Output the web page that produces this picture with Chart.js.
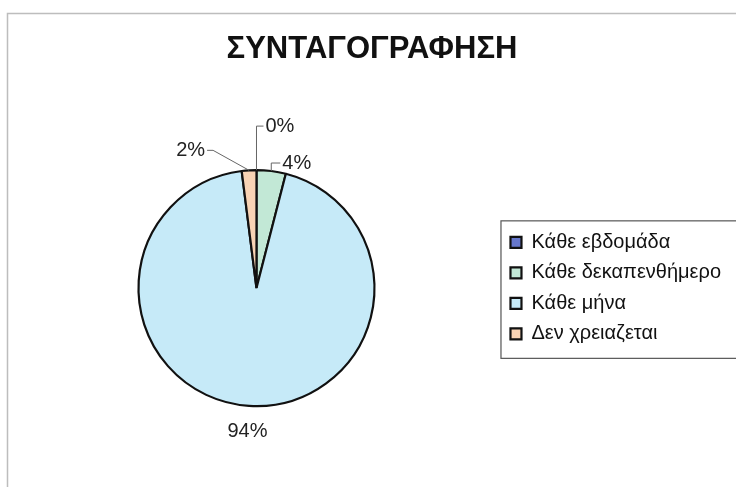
<!DOCTYPE html>
<html>
<head>
<meta charset="utf-8">
<script src="https://cdn.jsdelivr.net/npm/chart.js@4"></script>
<style>
  html, body { margin: 0; padding: 0; background: #fff; }
  canvas { display: block; }
</style>
</head>
<body>
<canvas id="chart" width="736" height="487"></canvas>
<script>
// Chart data
const labels = ["Κάθε εβδομάδα", "Κάθε δεκαπενθήμερο", "Κάθε μήνα", "Δεν χρειαζεται"];
const percents = [0, 4, 94, 2];
const sliceColors = ["#6677CC", "#C2E8D6", "#C6EAF8", "#F8D3B4"];

// leader line layout per slice: elbow offset from slice edge, then tail
const leaders = [
  { dx: 0, dy: -44, tail: 7 },
  { dx: 0, dy: -8, tail: 9 },
  null,
  { dx: -36, dy: -20, tail: -6 },
];

const framePlugin = {
  id: "frame",
  beforeDraw(chart) {
    const ctx = chart.ctx;
    ctx.save();
    ctx.fillStyle = "#fff";
    ctx.fillRect(0, 0, chart.width, chart.height);
    ctx.strokeStyle = "#bdbdbd";
    ctx.lineWidth = 1.5;
    ctx.strokeRect(7.5, 13.5, chart.width + 10, chart.height + 10);
    ctx.restore();
  },
  afterDraw(chart) {
    // border round the legend, open on the right like the original
    const boxes = chart.legend.legendHitBoxes;
    if (!boxes || !boxes.length) return;
    const first = boxes[0];
    const last = boxes[boxes.length - 1];
    const ctx = chart.ctx;
    ctx.save();
    ctx.strokeStyle = "#555";
    ctx.lineWidth = 1.2;
    ctx.strokeRect(first.left - 9.5, first.top - 11.5, chart.width, last.top + last.height - first.top + 26);
    ctx.restore();
  },
};

const sliceLabels = {
  id: "sliceLabels",
  afterDatasetsDraw(chart) {
    const ctx = chart.ctx;
    const arcs = chart.getDatasetMeta(0).data;
    ctx.save();
    ctx.font = "20px 'Liberation Sans', Arial, sans-serif";
    ctx.fillStyle = "#222";
    ctx.strokeStyle = "#666";
    ctx.lineWidth = 1;
    arcs.forEach((arc, i) => {
      const { x, y, startAngle, endAngle, outerRadius } = arc.getProps(
        ["x", "y", "startAngle", "endAngle", "outerRadius"], true);
      const mid = (startAngle + endAngle) / 2;
      const text = percents[i] + "%";
      const ax = x + Math.cos(mid) * outerRadius;
      const ay = y + Math.sin(mid) * outerRadius;
      const ld = leaders[i];
      if (!ld) {
        const r = outerRadius + 26;
        ctx.textAlign = "center";
        ctx.textBaseline = "middle";
        ctx.fillText(text, x + Math.cos(mid) * r, y + Math.sin(mid) * r);
        return;
      }
      const ex = ax + ld.dx, ey = ay + ld.dy;
      ctx.beginPath();
      ctx.moveTo(ax, ay);
      ctx.lineTo(ex, ey);
      ctx.lineTo(ex + ld.tail, ey);
      ctx.stroke();
      ctx.textBaseline = "middle";
      ctx.textAlign = ld.tail >= 0 ? "left" : "right";
      ctx.fillText(text, ex + ld.tail + (ld.tail >= 0 ? 2 : -2), ey);
    });
    ctx.restore();
  },
};

new Chart(document.getElementById("chart"), {
  type: "pie",
  data: {
    labels: labels,
    datasets: [{
      data: percents,
      backgroundColor: sliceColors,
      borderColor: "#111",
      borderWidth: 2.2,
      radius: 118,
    }],
  },
  options: {
    responsive: false,
    animation: false,
    devicePixelRatio: 1,
    layout: { padding: { left: 13, right: 5, top: 0, bottom: 81 } },
    plugins: {
      title: {
        display: true,
        text: "ΣΥΝΤΑΓΟΓΡΑΦΗΣΗ",
        color: "#111",
        font: { family: "'Liberation Sans', Arial, sans-serif", size: 31, weight: "bold" },
        padding: { top: 31, bottom: 102 },
      },
      legend: {
        position: "right",
        fullSize: false,
        labels: {
          color: "#111",
          font: { family: "'Liberation Sans', Arial, sans-serif", size: 20 },
          boxWidth: 11,
          boxHeight: 11,
          padding: 10.5,
        },
      },
      tooltip: { enabled: false },
    },
  },
  plugins: [framePlugin, sliceLabels],
});
</script>
</body>
</html>
